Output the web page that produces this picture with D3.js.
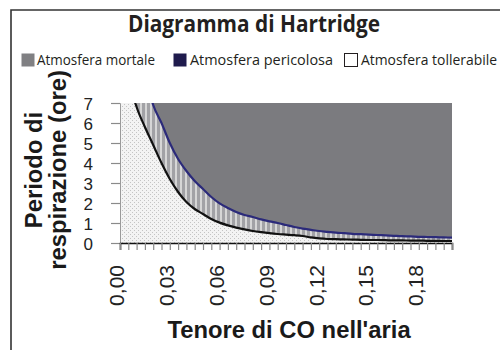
<!DOCTYPE html>
<html>
<head>
<meta charset="utf-8">
<script src="https://cdn.jsdelivr.net/npm/d3@7"></script>
<style>
  html, body { margin: 0; padding: 0; background: #fff; }
  svg { display: block; }
</style>
</head>
<body>
<svg id="chart" width="500" height="350"></svg>
<script>
// CO concentration in air (fraction)
const coLevels = [0.000, 0.005, 0.010, 0.015, 0.020, 0.025, 0.030, 0.035, 0.040, 0.045,
                  0.050, 0.055, 0.060, 0.065, 0.070, 0.075, 0.080, 0.085, 0.090, 0.095,
                  0.100, 0.105, 0.110, 0.115, 0.120, 0.125, 0.130, 0.135, 0.140, 0.145,
                  0.150, 0.155, 0.160, 0.165, 0.170, 0.175, 0.180, 0.185, 0.190, 0.195, 0.200];
// Upper limit of the tolerable zone (hours)
const limiteTollerabile = [11, 8.3, 6.8, 5.8, 4.9, 4.0, 3.2, 2.55, 2.05, 1.7,
                           1.45, 1.2, 1.02, 0.88, 0.77, 0.68, 0.6, 0.54, 0.49, 0.45,
                           0.42, 0.39, 0.35, 0.28, 0.23, 0.2, 0.19, 0.18, 0.17, 0.16,
                           0.15, 0.15, 0.14, 0.13, 0.13, 0.12, 0.12, 0.11, 0.11, 0.1, 0.1];
// Lower limit of the deadly zone (hours)
const limiteMortale = [16, 13, 11, 8.5, 6.9, 6.0, 5.0, 4.2, 3.6, 3.1,
                       2.7, 2.3, 1.98, 1.75, 1.55, 1.4, 1.3, 1.18, 1.08, 1.0,
                       0.9, 0.8, 0.72, 0.66, 0.6, 0.56, 0.52, 0.49, 0.46, 0.44,
                       0.42, 0.4, 0.38, 0.36, 0.34, 0.33, 0.31, 0.3, 0.29, 0.28, 0.27];
const yTicks = [0, 1, 2, 3, 4, 5, 6, 7];
const xLabelValues = [0, 0.03, 0.06, 0.09, 0.12, 0.15, 0.18];
const xTickLabels = ["0,00", "0,03", "0,06", "0,09", "0,12", "0,15", "0,18"];
const legendLabels = ["Atmosfera mortale", "Atmosfera pericolosa", "Atmosfera tollerabile"];

const svg = d3.select("#chart");
const plot = { left: 120, right: 452, top: 103, bottom: 243 };

const x = d3.scaleLinear().domain([0, 0.2]).range([plot.left, plot.right]);
const y = d3.scaleLinear().domain([0, 7]).range([plot.bottom, plot.top]);

const defs = svg.append("defs");
defs.append("clipPath").attr("id", "plotClip")
  .append("rect")
  .attr("x", plot.left).attr("y", plot.top)
  .attr("width", plot.right - plot.left).attr("height", plot.bottom - plot.top);

// fine dots for the tolerable zone
const dots = defs.append("pattern").attr("id", "dots")
  .attr("patternUnits", "userSpaceOnUse").attr("width", 4).attr("height", 4);
dots.append("rect").attr("width", 4).attr("height", 4).attr("fill", "#f3f3f3");
dots.append("rect").attr("x", 0).attr("y", 0).attr("width", 1).attr("height", 1).attr("fill", "#c4c4c4");
dots.append("rect").attr("x", 2).attr("y", 2).attr("width", 1).attr("height", 1).attr("fill", "#c4c4c4");

// vertical stripes for the dangerous zone
const stripes = defs.append("pattern").attr("id", "stripes")
  .attr("patternUnits", "userSpaceOnUse").attr("width", 5).attr("height", 5);
stripes.append("rect").attr("width", 5).attr("height", 5).attr("fill", "#a2a2a6");
stripes.append("rect").attr("x", 0).attr("width", 2).attr("height", 5).attr("fill", "#d6d6d6");

// frame
svg.append("path")
  .attr("d", `M11,355 L11,10 L505,10`)
  .attr("fill", "none").attr("stroke", "#333").attr("stroke-width", 1.6);

// title
svg.append("text")
  .attr("x", 254).attr("y", 32)
  .attr("text-anchor", "middle")
  .attr("font-family", "'Open Sans', sans-serif").attr("font-weight", 700)
  .attr("font-size", 23).attr("fill", "#231f20")
  .attr("textLength", 252).attr("lengthAdjust", "spacingAndGlyphs")
  .text("Diagramma di Hartridge");

// legend
const legendItems = [
  { label: legendLabels[0], fill: "#808083", stroke: "none", sx: 21, tx: 37, tw: 118 },
  { label: legendLabels[1], fill: "#1f1b4d", stroke: "none", sx: 173, tx: 190, tw: 143 },
  { label: legendLabels[2], fill: "#ffffff", stroke: "#231f20", sx: 344, tx: 361, tw: 136 }
];
const legend = svg.append("g");
legendItems.forEach(d => {
  legend.append("rect")
    .attr("x", d.sx + 0.5).attr("y", 53.5).attr("width", 13).attr("height", 13)
    .attr("fill", d.fill).attr("stroke", d.stroke).attr("stroke-width", 1);
  legend.append("text")
    .attr("x", d.tx).attr("y", 65)
    .attr("font-family", "'Open Sans', sans-serif").attr("font-size", 14)
    .attr("fill", "#231f20")
    .attr("textLength", d.tw).attr("lengthAdjust", "spacingAndGlyphs")
    .text(d.label);
});

// zones
const series = coLevels.map((c, i) => ({ c, low: limiteTollerabile[i], high: limiteMortale[i] }));
const zones = svg.append("g").attr("clip-path", "url(#plotClip)");
const curve = d3.curveMonotoneX;

zones.append("path").datum(series)
  .attr("fill", "#7b7b7f")
  .attr("d", d3.area().curve(curve).x(d => x(d.c)).y0(d => y(d.high)).y1(y(7) - 200));

zones.append("path").datum(series)
  .attr("fill", "url(#stripes)")
  .attr("d", d3.area().curve(curve).x(d => x(d.c)).y0(d => y(d.low)).y1(d => y(d.high)));

zones.append("path").datum(series)
  .attr("fill", "url(#dots)")
  .attr("d", d3.area().curve(curve).x(d => x(d.c)).y0(y(0)).y1(d => y(d.low)));

zones.append("path").datum(series)
  .attr("fill", "none").attr("stroke", "#2b2a7a").attr("stroke-width", 2.2)
  .attr("d", d3.line().curve(curve).x(d => x(d.c)).y(d => y(d.high)));

zones.append("path").datum(series)
  .attr("fill", "none").attr("stroke", "#111").attr("stroke-width", 2.2)
  .attr("d", d3.line().curve(curve).x(d => x(d.c)).y(d => y(d.low)));

// y axis
const yAxis = svg.append("g")
  .attr("transform", `translate(${plot.left},0)`)
  .call(d3.axisLeft(y).tickValues(yTicks).tickSize(9).tickPadding(18).tickFormat(d3.format("d")));
yAxis.select(".domain").attr("stroke", "#9a9a9a");
yAxis.selectAll(".tick line").attr("stroke", "#8a8a8a").attr("stroke-width", 1.2);
yAxis.selectAll(".tick text")
  .attr("font-family", "'Liberation Sans', Arial, sans-serif").attr("font-size", 17)
  .attr("dy", "0.36em")
  .attr("fill", "#222");

// x axis: minor ticks every 0.005, labels every 0.03
const xAxis = svg.append("g")
  .attr("transform", `translate(0,${plot.bottom})`)
  .call(d3.axisBottom(x).tickValues(coLevels).tickSize(7).tickFormat(""));
xAxis.select(".domain").attr("stroke", "#111").attr("stroke-width", 1.6);
xAxis.selectAll(".tick line").attr("stroke", "#8a8a8a").attr("stroke-width", 1.2);

svg.append("g").selectAll("text")
  .data(xLabelValues)
  .join("text")
  .attr("transform", d => `translate(${x(d) - 3},265) rotate(-90)`)
  .attr("text-anchor", "end")
  .attr("dy", "0.35em")
  .attr("font-family", "'Liberation Sans', Arial, sans-serif").attr("font-size", 21)
  .attr("fill", "#222")
  .text((d, i) => xTickLabels[i]);

// axis titles
svg.append("text")
  .attr("x", 289).attr("y", 338)
  .attr("text-anchor", "middle")
  .attr("font-family", "'Liberation Sans', Arial, sans-serif").attr("font-weight", 700)
  .attr("font-size", 23.8).attr("fill", "#1a1a1a")
  .text("Tenore di CO nell'aria");

const yTitle = svg.append("text")
  .attr("transform", "translate(0,170) rotate(-90)")
  .attr("text-anchor", "middle")
  .attr("font-family", "'Liberation Sans', Arial, sans-serif").attr("font-weight", 700)
  .attr("font-size", 23.8).attr("fill", "#1a1a1a");
yTitle.append("tspan").attr("x", 0).attr("y", 42).text("Periodo di");
yTitle.append("tspan").attr("x", 0).attr("y", 66).text("respirazione (ore)");
</script>
</body>
</html>
